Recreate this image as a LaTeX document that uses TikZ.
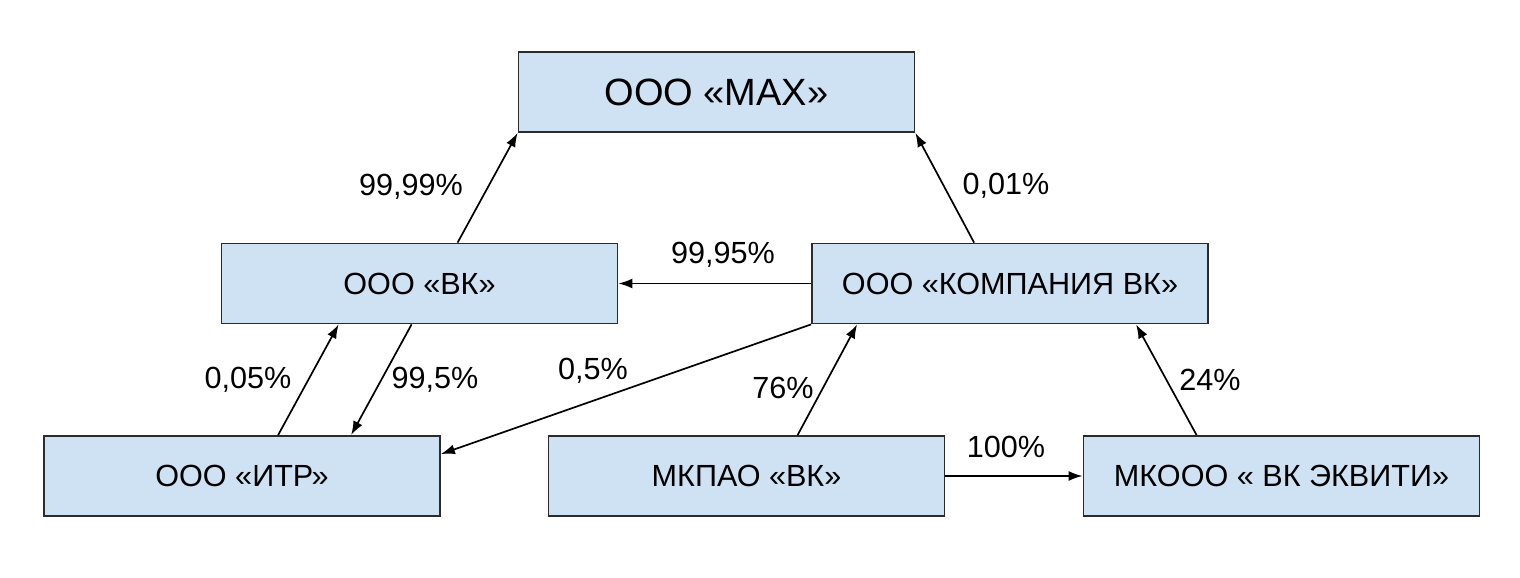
\documentclass[tikz,border=0pt]{standalone}
\usepackage{fontspec}
\setmainfont{Liberation Sans}
\usetikzlibrary{arrows.meta,calc}
\definecolor{boxfill}{HTML}{CFE2F3}
\definecolor{boxline}{HTML}{2B2B2B}
\tikzset{
  orgbox/.style={draw=boxline, line width=1.8pt, fill=boxfill, minimum width=396pt, minimum height=80pt, inner sep=0pt, font=\fontsize{30.6}{36}\selectfont},
  bigbox/.style={orgbox, font=\fontsize{38}{44}\selectfont},
  pct/.style={inner sep=0pt, font=\fontsize{30.6}{36}\selectfont},
  link/.style={line width=1.7pt, black, -{Latex[length=14pt,width=10pt]}},
}
\begin{document}
\begin{tikzpicture}[x=1pt,y=-1pt]
\useasboundingbox[fill=white] (0,0) rectangle (1520,578);
\node[bigbox] (max) at (716.5,92) {ООО «МАХ»};
\node[orgbox] (vk) at (419.5,283.5) {ООО «ВК»};
\node[orgbox] (komp) at (1010,283.5) {ООО «КОМПАНИЯ ВК»};
\node[orgbox] (itr) at (242,476) {ООО «ИТР»};
\node[orgbox] (mkpao) at (746.5,476) {МКПАО «ВК»};
\node[orgbox] (ekv) at (1281.5,476) {МКООО « ВК ЭКВИТИ»};

\draw[link] ($(vk.north west)+(237,0)$) -- (max.south west);
\draw[link] ($(komp.north west)+(163,0)$) -- (max.south east);
\draw[link] (komp.west) -- (vk.east);
\draw[link] ($(itr.north west)+(235,0)$) -- ($(vk.south west)+(118,0)$);
\draw[link] ($(vk.south west)+(191,0)$) -- ($(itr.north west)+(308,0)$);
\draw[link] (komp.south west) -- ($(itr.north east)+(0,19)$);
\draw[link] ($(mkpao.north west)+(250,0)$) -- ($(komp.south west)+(46,0)$);
\draw[link] ($(ekv.north west)+(114,0)$) -- ($(komp.south west)+(325,0)$);
\draw[link] (mkpao.east) -- (ekv.west);

\node[pct] (l1) at (411,187) {99,99\%};
\node[pct] (l2) at (1006,186) {0,01\%};
\node[pct] (l3) at (723,255) {99,95\%};
\node[pct] (l4) at (248,380) {0,05\%};
\node[pct] (l5) at (435,380) {99,5\%};
\node[pct] (l6) at (593,371) {0,5\%};
\node[pct] (l7) at (783,388) {76\%};
\node[pct] (l8) at (1210,380) {24\%};
\node[pct] (l9) at (1006,447) {100\%};
\end{tikzpicture}
\end{document}
